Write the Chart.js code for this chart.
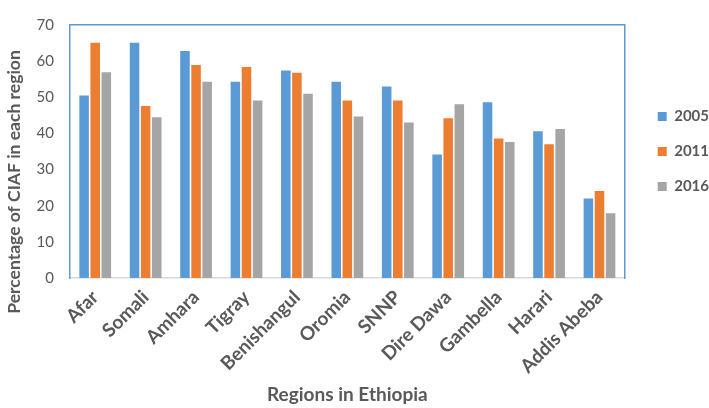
<!DOCTYPE html>
<html>
<head>
<meta charset="utf-8">
<title>CIAF by region</title>
<script src="https://cdn.jsdelivr.net/npm/chart.js@4.4.1/dist/chart.umd.min.js"></script>
<style>
  html, body { margin: 0; padding: 0; background: #fff; }
  #wrap { width: 709px; height: 408px; }
</style>
</head>
<body>
<div id="wrap"><canvas id="ciaf-chart" width="709" height="408"></canvas></div>
<script>
// Percentage of CIAF in each region, by survey year
const regions = ['Afar', 'Somali', 'Amhara', 'Tigray', 'Benishangul', 'Oromia', 'SNNP', 'Dire Dawa', 'Gambella', 'Harari', 'Addis Abeba'];
const ciaf2005 = [50.5, 65.1, 62.8, 54.3, 57.4, 54.3, 53.0, 34.2, 48.6, 40.6, 22.0];
const ciaf2011 = [65.1, 47.6, 58.9, 58.4, 56.8, 49.1, 49.1, 44.2, 38.6, 37.0, 24.1];
const ciaf2016 = [56.9, 44.5, 54.3, 49.1, 51.0, 44.7, 43.0, 48.1, 37.6, 41.2, 17.9];
const yTicks = [0, 10, 20, 30, 40, 50, 60, 70];

const TEXT = '#595959';
const FONT = 'Lato, "Open Sans", sans-serif';
const BLUE = '#5B9BD5';

// y title is centred on the whole figure height (Excel style), not on the plot area
const yTitlePlugin = {
    id: 'yTitle',
    afterDraw(chart) {
        const ctx = chart.ctx;
        ctx.save();
        ctx.translate(14, 182);
        ctx.rotate(-Math.PI / 2);
        ctx.fillStyle = TEXT;
        ctx.font = 'bold 17.5px ' + FONT;
        ctx.textAlign = 'center';
        ctx.textBaseline = 'middle';
        ctx.fillText('Percentage of CIAF in each region', 0, 0);
        ctx.restore();
    }
};

const series = [
    { label: '2005', data: ciaf2005, color: '#5B9BD5' },
    { label: '2011', data: ciaf2011, color: '#ED7D31' },
    { label: '2016', data: ciaf2016, color: '#A5A5A5' },
];

new Chart(document.getElementById('ciaf-chart'), {
    type: 'bar',
    data: {
        labels: regions,
        datasets: series.map(s => ({
            label: s.label,
            data: s.data,
            backgroundColor: s.color,
            borderWidth: 0,
            categoryPercentage: 0.66,
            barPercentage: 0.86,
        })),
    },
    options: {
        responsive: false,
        animation: false,
        layout: { padding: { left: 32, top: 7, right: -10, bottom: 0 } },
        plugins: {
            legend: {
                position: 'right',
                fullSize: false,
                labels: {
                    color: TEXT,
                    font: { family: FONT, size: 15, weight: 'bold' },
                    boxWidth: 9,
                    boxHeight: 9,
                    padding: 20,
                },
            },
            tooltip: { enabled: false },
        },
        scales: {
            x: {
                grid: { display: false, drawTicks: false },
                border: { color: '#D9D9D9', width: 1.5 },
                ticks: {
                    color: TEXT,
                    font: { family: FONT, size: 19, weight: 'bold' },
                    minRotation: 45,
                    maxRotation: 45,
                    autoSkip: false,
                    padding: 8,
                },
                title: {
                    display: true,
                    text: 'Regions in Ethiopia',
                    color: TEXT,
                    font: { family: FONT, size: 19, weight: 'bold' },
                    padding: { top: 0, bottom: 2 },
                },
                afterFit: s => { s.height = 130; },
            },
            xTop: {
                type: 'category',
                position: 'top',
                grid: { display: false, drawTicks: false },
                ticks: { display: false },
                border: { color: BLUE, width: 1.5 },
                afterFit: s => { s.height = 0; },
            },
            y: {
                min: 0,
                max: 70,
                grid: { display: false, drawTicks: false },
                border: { color: BLUE, width: 1.5 },
                afterBuildTicks: s => { s.ticks = yTicks.map(v => ({ value: v })); },
                ticks: {
                    color: TEXT,
                    font: { family: FONT, size: 15 },
                    padding: 16,
                },
                afterFit: s => { s.width = 38; },
            },
            yRight: {
                type: 'linear',
                position: 'right',
                grid: { display: false, drawTicks: false },
                ticks: { display: false },
                border: { color: BLUE, width: 1.5 },
                afterFit: s => { s.width = 13; },
            },
        },
    },
    plugins: [yTitlePlugin],
});
</script>
</body>
</html>
